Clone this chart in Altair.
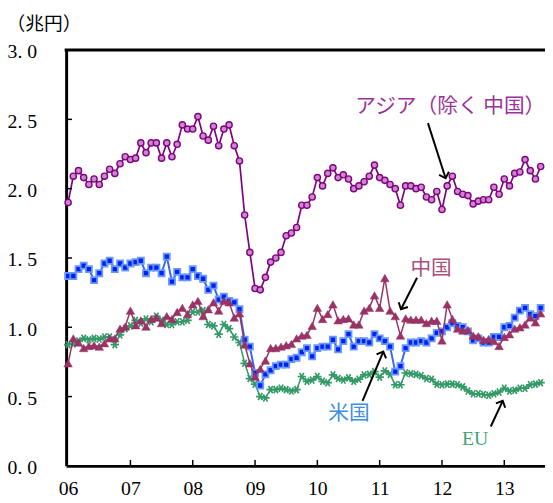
import math
import altair as alt
import pandas as pd

# ---- data (monthly, Jan 2006 .. Aug 2013), trillion yen ----
asia = [1.90, 2.09, 2.13, 2.08, 2.03, 2.07, 2.03, 2.09, 2.14, 2.11, 2.18, 2.23,
        2.21, 2.22, 2.33, 2.26, 2.33, 2.33, 2.22, 2.33, 2.23, 2.32, 2.46, 2.43,
        2.43, 2.52, 2.38, 2.35, 2.45, 2.31, 2.43, 2.46, 2.31, 2.20, 1.81, 1.54,
        1.28, 1.27, 1.36, 1.47, 1.50, 1.54, 1.66, 1.68, 1.72, 1.88, 1.88, 1.94,
        2.08, 2.02, 2.11, 2.15, 2.08, 2.10, 2.07, 2.00, 2.02, 2.05, 2.09, 2.17,
        2.08, 2.06, 2.03, 2.00, 1.88, 2.02, 2.02, 2.00, 2.01, 1.94, 1.92, 1.98,
        1.85, 2.02, 2.09, 1.98, 1.96, 1.95, 1.89, 1.91, 1.92, 1.92, 2.01, 1.96,
        2.07, 2.02, 2.11, 2.12, 2.21, 2.13, 2.07, 2.16]
us = [1.37, 1.37, 1.42, 1.445, 1.42, 1.34, 1.39, 1.46, 1.48, 1.42, 1.46, 1.43,
      1.46, 1.47, 1.48, 1.39, 1.43, 1.43, 1.39, 1.51, 1.33, 1.40, 1.36, 1.36,
      1.42, 1.37, 1.35, 1.27, 1.30, 1.20, 1.22, 1.19, 1.18, 1.13, 0.91, 0.86,
      0.67, 0.58, 0.66, 0.69, 0.72, 0.73, 0.73, 0.77, 0.78, 0.82, 0.85, 0.79,
      0.85, 0.86, 0.86, 0.91, 0.84, 0.90, 0.95, 0.86, 0.90, 0.90, 0.89, 0.95,
      0.92, 0.90, 0.86, 0.68, 0.72, 0.85, 0.89, 0.89, 0.90, 0.89, 0.92, 0.96,
      0.97, 1.00, 1.03, 1.01, 1.00, 0.97, 0.905, 0.92, 0.89, 0.89, 0.93, 0.93,
      1.00, 1.01, 1.07, 1.12, 1.14, 1.095, 1.08, 1.14]
china = [0.74, 0.92, 0.89, 0.85, 0.865, 0.87, 0.86, 0.885, 0.92, 0.92, 0.99, 1.005,
         1.12, 1.015, 1.05, 1.005, 1.06, 1.07, 1.03, 1.08, 1.06, 1.11, 1.14, 1.095,
         1.165, 1.19, 1.08, 1.13, 1.18, 1.12, 1.19, 1.18, 1.07, 1.10, 0.875, 0.74,
         0.645, 0.70, 0.76, 0.85, 0.85, 0.86, 0.87, 0.88, 0.92, 0.94, 0.945, 1.01,
         1.14, 1.06, 1.095, 1.165, 1.05, 1.06, 1.064, 1.02, 1.02, 1.12, 1.14, 1.23,
         1.14, 1.355, 1.12, 1.08, 0.94, 1.064, 1.055, 1.055, 1.055, 1.03, 1.047, 1.047,
         0.905, 1.165, 1.06, 0.99, 0.976, 0.98, 0.94, 0.935, 0.91, 0.915, 0.90, 0.865,
         0.93, 0.95, 0.99, 1.00, 1.02, 1.07, 1.035, 1.10]
eu = [0.875, 0.88, 0.90, 0.92, 0.91, 0.92, 0.915, 0.93, 0.93, 0.875, 0.945, 0.99,
      1.01, 1.05, 1.03, 1.06, 1.04, 1.08, 1.05, 1.02, 1.02, 1.04, 1.04, 1.05,
      1.11, 1.11, 1.12, 1.02, 1.01, 0.95, 1.02, 0.99, 0.93, 0.89, 0.74, 0.63,
      0.59, 0.50, 0.49, 0.55, 0.55, 0.56, 0.55, 0.54, 0.55, 0.645, 0.61, 0.62,
      0.645, 0.61, 0.60, 0.656, 0.63, 0.62, 0.635, 0.61, 0.625, 0.656, 0.66, 0.68,
      0.64, 0.685, 0.66, 0.585, 0.585, 0.67, 0.665, 0.66, 0.65, 0.63, 0.625, 0.59,
      0.585, 0.59, 0.59, 0.585, 0.57, 0.54, 0.52, 0.52, 0.515, 0.51, 0.52, 0.533,
      0.56, 0.54, 0.545, 0.56, 0.56, 0.585, 0.59, 0.60]

year_ticks = [0, 12, 24, 36, 48, 60, 72, 84]          # Jan of 06..13
y_tick_values = [0.0, 0.5, 1.0, 1.5, 2.0, 2.5, 3.0]
inner_y_ticks = [0.5, 1.0, 1.5, 2.0, 2.5]

# annotations (month index, value)
ann_labels = ["アジア（除く 中国）", "中国", "米国"]
ann_t = [73.6, 69.9, 54.1]
ann_v = [2.59, 1.42, 0.377]
ann_colors = ["#993399", "#a8507e", "#3d8fe0"]
eu_label_t, eu_label_v = [78.4], [0.19]

arrow_t = [69.3, 67.2, 56.7, 81.4]
arrow_v = [2.473, 1.357, 0.469, 0.284]
arrow_t2 = [72.7, 64.1, 60.7, 83.7]
arrow_v2 = [2.075, 1.13, 0.824, 0.469]

# ---- layout ----
W, H = 486, 422
T0, T1 = -0.38, 91.84
xs = alt.Scale(domain=[T0, T1], nice=False, zero=False)
ys = alt.Scale(domain=[0, 3], nice=False)
px_per_t = W / (T1 - T0)
px_per_v = H / 3.0

SERIF = "Liberation Serif"
CJK = "Noto Sans CJK JP"

X_AXIS = alt.Axis(values=year_ticks, tickSize=0, grid=False, domainColor="black",
                  domainWidth=3, labelFont=SERIF, labelFontSize=20, labelColor="black",
                  labelPadding=13, labelFlush=False, title=None,
                  labelExpr="(6 + datum.value/12 < 10 ? '0' : '') + (6 + datum.value/12)")
Y_AXIS = alt.Axis(values=y_tick_values, tickSize=0, grid=False, domainColor="black",
                  domainWidth=3, labelFont=SERIF, labelFontSize=20, labelColor="black",
                  labelPadding=30, labelOffset=2,
                  labelExpr="replace(format(datum.value, '.1f'), '.', '. ')",
                  title="（兆円）", titleAngle=0, titleX=-61, titleY=-27,
                  titleAlign="left", titleBaseline="middle", titleFont=CJK,
                  titleFontSize=19, titleFontWeight="normal", titleColor="black")

def X(f="t"):
    return alt.X(f"{f}:Q", scale=xs, axis=X_AXIS)

def Y(f="v"):
    return alt.Y(f"{f}:Q", scale=ys, axis=Y_AXIS)

def series_df(vals):
    return pd.DataFrame({"t": list(range(len(vals))), "v": vals})

layers = []

# EU (green asterisks)
d = series_df(eu)
layers.append(alt.Chart(d).mark_line(color="#339966", strokeWidth=1.5).encode(x=X(), y=Y()))
layers.append(alt.Chart(d).mark_point(
    shape="M-1,0L1,0M-0.5,-0.866L0.5,0.866M-0.5,0.866L0.5,-0.866",
    filled=False, stroke="#339966", strokeWidth=1.7, size=72, opacity=1).encode(x=X(), y=Y()))

# US (blue squares)
d = series_df(us)
layers.append(alt.Chart(d).mark_line(color="#3366ff", strokeWidth=2).encode(x=X(), y=Y()))
layers.append(alt.Chart(d).mark_point(
    shape="square", filled=True, fill="#0022ee", stroke="#6a98ff", strokeWidth=1.8,
    size=38, opacity=1).encode(x=X(), y=Y()))

# China (maroon triangles)
d = series_df(china)
layers.append(alt.Chart(d).mark_line(color="#993366", strokeWidth=1.5).encode(x=X(), y=Y()))
layers.append(alt.Chart(d).mark_point(
    shape="triangle-up", filled=True, fill="#993366", stroke="#993366", strokeWidth=0.5,
    size=75, opacity=1).encode(x=X(), y=Y()))

# Asia ex China (purple circles)
d = series_df(asia)
layers.append(alt.Chart(d).mark_line(color="#800080", strokeWidth=1.7).encode(x=X(), y=Y()))
layers.append(alt.Chart(d).mark_point(
    shape="circle", filled=True, fill="#cc88cc", stroke="#800080", strokeWidth=1.4,
    size=40, opacity=1).encode(x=X(), y=Y()))

# inward ticks
layers.append(alt.Chart(pd.DataFrame({"t": year_ticks[1:]})).mark_rule(
    color="black", strokeWidth=1.5).encode(x=X(), y=alt.value(H), y2=alt.value(H - 6)))
layers.append(alt.Chart(pd.DataFrame({"v": inner_y_ticks})).mark_rule(
    color="black", strokeWidth=1.5).encode(y=Y(), x=alt.value(0), x2=alt.value(6)))

# top border
layers.append(alt.Chart(pd.DataFrame({"v": [3.0]})).mark_rule(
    color="black", strokeWidth=3).encode(y=Y(), x=alt.value(-1.5), x2=alt.value(W)))

# arrows
ang = []
for a, b, c, e in zip(arrow_t, arrow_v, arrow_t2, arrow_v2):
    dx = (c - a) * px_per_t
    dy = -(e - b) * px_per_v
    ang.append(math.degrees(math.atan2(dx, -dy)) % 360)
arr = pd.DataFrame({"t": arrow_t, "v": arrow_v, "t2": arrow_t2, "v2": arrow_v2, "ang": ang})
layers.append(alt.Chart(arr).mark_rule(color="black", strokeWidth=2).encode(
    x=X(), y=Y(), x2="t2:Q", y2="v2:Q"))
layers.append(alt.Chart(arr).mark_point(
    shape="M-1,1L0,0L1,1", filled=False, stroke="black", strokeWidth=2, size=110,
    opacity=1).encode(x=X("t2"), y=Y("v2"), angle=alt.Angle("ang:Q", scale=None)))

# annotation texts
ann = pd.DataFrame({"t": ann_t, "v": ann_v, "label": ann_labels, "c": ann_colors})
layers.append(alt.Chart(ann).mark_text(font=CJK, fontSize=21, align="center",
                                       baseline="middle").encode(
    x=X(), y=Y(), text="label:N", color=alt.Color("c:N", scale=None)))
layers.append(alt.Chart(pd.DataFrame({"t": eu_label_t, "v": eu_label_v, "label": ["EU"]}))
              .mark_text(font=SERIF, fontSize=20, align="center", baseline="middle",
                         color="#3fa274").encode(x=X(), y=Y(), text="label:N"))

chart = alt.layer(*layers).properties(
    width=W, height=H,
    padding={"left": 59, "top": 39, "right": 0, "bottom": 34},
    autosize=alt.AutoSizeParams(type="none"),
).configure_view(stroke=None)

chart.save("out.html", embed_options={"renderer": "svg", "actions": False})
